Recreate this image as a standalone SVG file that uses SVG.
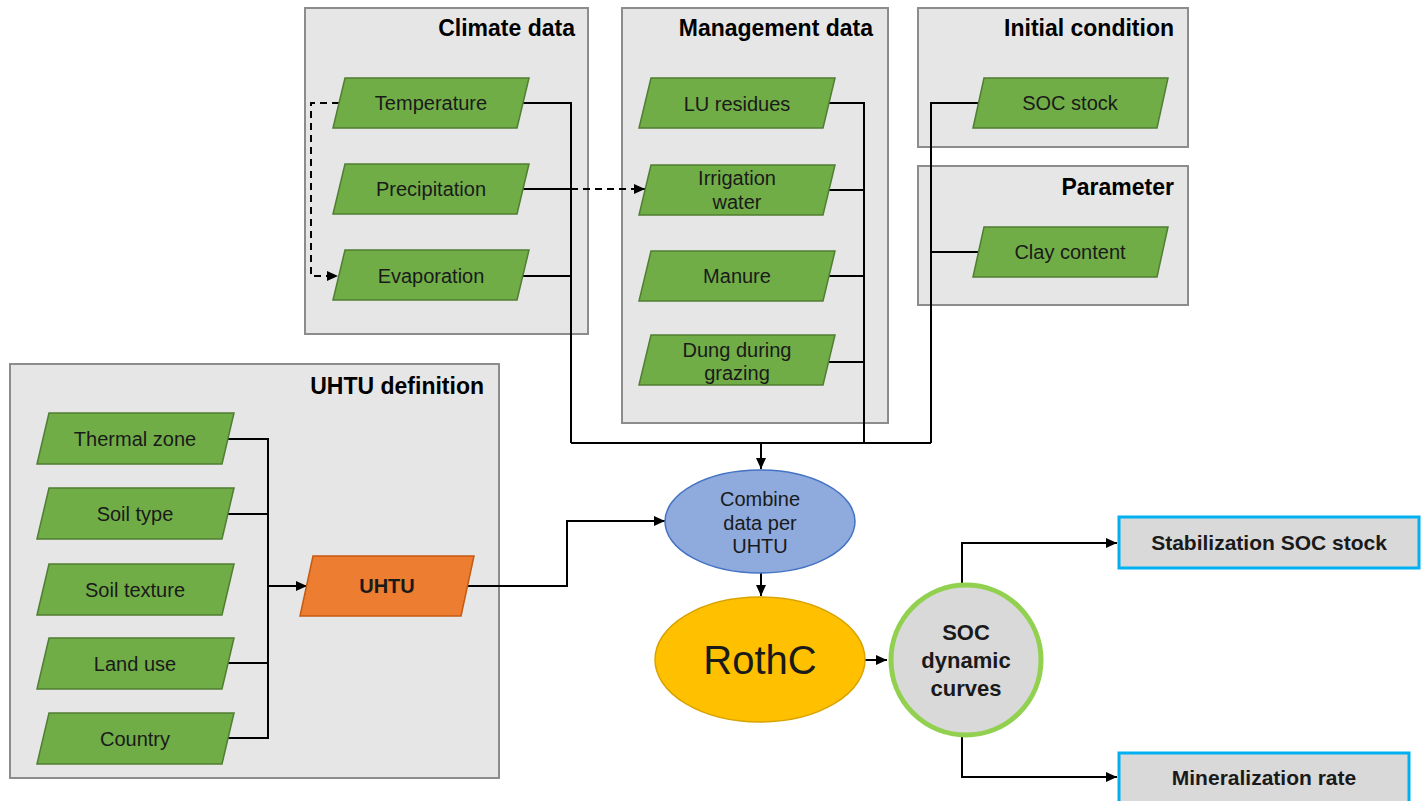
<svg xmlns="http://www.w3.org/2000/svg" width="1425" height="801" viewBox="0 0 1425 801">
<style>
.grp{fill:#E7E6E6;stroke:#8C8C8C;stroke-width:2}
.para{fill:#70AD47;stroke:#507E32;stroke-width:1.5}
.t{font-family:"Liberation Sans",Arial,sans-serif;font-size:20px;fill:#1a1a1a;text-anchor:middle}
.title{font-family:"Liberation Sans",Arial,sans-serif;font-size:23px;font-weight:bold;fill:#000;text-anchor:end}
.b{font-weight:bold}
.s20{font-size:20px}
.s21{font-size:21px}
.s22{font-size:22px}
.s38{font-size:40px}
.ln{fill:none;stroke:#000;stroke-width:2}
.dash{fill:none;stroke:#000;stroke-width:2;stroke-dasharray:7,5}
</style>
<defs>
<marker id="ah" markerWidth="12" markerHeight="12" refX="11" refY="6" orient="auto" markerUnits="userSpaceOnUse">
<path d="M0,1 L11,6 L0,11 Z" fill="#000"/>
</marker>
</defs>
<rect width="1425" height="801" fill="#fff"/>

<g id="climate">
<rect class="grp" x="305" y="8" width="283" height="326"/>
<text class="title" x="575" y="36">Climate data</text>
</g>
<g id="management">
<rect class="grp" x="622" y="8" width="266" height="415"/>
<text class="title" x="873" y="36">Management data</text>
</g>
<g id="initial">
<rect class="grp" x="918" y="8" width="270" height="139"/>
<text class="title" x="1174" y="36">Initial condition</text>
</g>
<g id="parameter">
<rect class="grp" x="918" y="166" width="270" height="139"/>
<text class="title" x="1174" y="195">Parameter</text>
</g>
<g id="uhtu-def">
<rect class="grp" x="10" y="364" width="489" height="414"/>
<text class="title" x="484" y="394">UHTU definition</text>
</g>

<g id="connectors">
<polyline class="ln" points="523,103 571,103 571,443"/>
<polyline class="ln" points="523,189 571,189"/>
<polyline class="ln" points="523,276 571,276"/>
<polyline class="dash" points="523,189 645,189" marker-end="url(#ah)"/>
<polyline class="dash" points="339,103 311,103 311,276 338,276" marker-end="url(#ah)"/>
<polyline class="ln" points="829,103 864,103 864,443"/>
<polyline class="ln" points="829,190 864,190"/>
<polyline class="ln" points="829,276 864,276"/>
<polyline class="ln" points="829,362 864,362"/>
<polyline class="ln" points="978,103 931,103 931,443"/>
<polyline class="ln" points="978,252 931,252"/>
<polyline class="ln" points="571,443 931,443"/>
<polyline class="ln" points="761,443 761,469" marker-end="url(#ah)"/>
<polyline class="ln" points="228,439 268,439 268,738 228,738"/>
<polyline class="ln" points="228,514 268,514"/>
<polyline class="ln" points="228,663 268,663"/>
<polyline class="ln" points="268,586 307,586" marker-end="url(#ah)"/>
<polyline class="ln" points="467,586 567,586 567,521 665,521" marker-end="url(#ah)"/>
<polyline class="ln" points="761,573 761,596" marker-end="url(#ah)"/>
<polyline class="ln" points="865,660 887,660" marker-end="url(#ah)"/>
<polyline class="ln" points="962,583 962,543 1117,543" marker-end="url(#ah)"/>
<polyline class="ln" points="962,737 962,777 1117,777" marker-end="url(#ah)"/>
</g>

<g id="temperature">
<polygon class="para" points="345,78 529,78 517,128 333,128"/>
<text class="t" x="431" y="110">Temperature</text>
</g>
<g id="precipitation">
<polygon class="para" points="345,164 529,164 517,214 333,214"/>
<text class="t" x="431" y="196">Precipitation</text>
</g>
<g id="evaporation">
<polygon class="para" points="345,250 529,250 517,300 333,300"/>
<text class="t" x="431" y="283">Evaporation</text>
</g>

<g id="lu-residues">
<polygon class="para" points="651,78 835,78 823,128 639,128"/>
<text class="t" x="737" y="111">LU residues</text>
</g>
<g id="irrigation">
<polygon class="para" points="651,165 835,165 823,215 639,215"/>
<text class="t" x="737" y="185">Irrigation</text>
<text class="t" x="737" y="209">water</text>
</g>
<g id="manure">
<polygon class="para" points="651,251 835,251 823,301 639,301"/>
<text class="t" x="737" y="283">Manure</text>
</g>
<g id="dung">
<polygon class="para" points="651,335 835,335 823,385 639,385"/>
<text class="t" x="737" y="357">Dung during</text>
<text class="t" x="737" y="380">grazing</text>
</g>

<g id="soc-stock">
<polygon class="para" points="984,78 1168,78 1157,128 973,128"/>
<text class="t" x="1070" y="110">SOC stock</text>
</g>
<g id="clay">
<polygon class="para" points="984,227 1168,227 1157,277 973,277"/>
<text class="t" x="1070" y="259">Clay content</text>
</g>

<g id="thermal-zone">
<polygon class="para" points="49,413 234,413 222,464 37,464"/>
<text class="t" x="135" y="446">Thermal zone</text>
</g>
<g id="soil-type">
<polygon class="para" points="49,488 234,488 222,539 37,539"/>
<text class="t" x="135" y="521">Soil type</text>
</g>
<g id="soil-texture">
<polygon class="para" points="49,564 234,564 222,615 37,615"/>
<text class="t" x="135" y="597">Soil texture</text>
</g>
<g id="land-use">
<polygon class="para" points="49,638 234,638 222,689 37,689"/>
<text class="t" x="135" y="671">Land use</text>
</g>
<g id="country">
<polygon class="para" points="49,713 234,713 222,764 37,764"/>
<text class="t" x="135" y="746">Country</text>
</g>

<g id="uhtu">
<polygon points="313,556 474,556 461,616 300,616" fill="#ED7D31" stroke="#C55A11" stroke-width="1.5"/>
<text class="t b" x="387" y="593">UHTU</text>
</g>

<g id="combine">
<ellipse cx="760" cy="521.5" rx="95" ry="51.5" fill="#8FAADC" stroke="#4472C4" stroke-width="1.5"/>
<text class="t s20" x="760" y="506">Combine</text>
<text class="t s20" x="760" y="530">data per</text>
<text class="t s20" x="760" y="553">UHTU</text>
</g>

<g id="rothc">
<ellipse cx="760" cy="659.5" rx="105" ry="62.5" fill="#FFC000" stroke="#D9A300" stroke-width="1.5"/>
<text class="t s38" x="760" y="674">RothC</text>
</g>

<g id="soc-curves">
<circle cx="966" cy="660" r="75" fill="#D9D9D9" stroke="#92D050" stroke-width="5"/>
<text class="t b s22" x="966" y="640">SOC</text>
<text class="t b s22" x="966" y="668">dynamic</text>
<text class="t b s22" x="966" y="696">curves</text>
</g>

<g id="stabilization">
<rect x="1119" y="517" width="300" height="51" fill="#D9D9D9" stroke="#00B0F0" stroke-width="3"/>
<text class="t b s21" x="1269" y="550">Stabilization SOC stock</text>
</g>
<g id="mineralization">
<rect x="1119" y="753" width="290" height="55" fill="#D9D9D9" stroke="#00B0F0" stroke-width="3"/>
<text class="t b s21" x="1264" y="785">Mineralization rate</text>
</g>
</svg>
